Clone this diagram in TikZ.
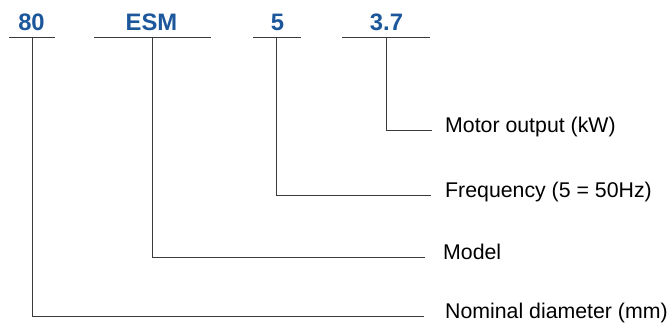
\documentclass[tikz,border=0pt]{standalone}
\usepackage{fontspec}
\setmainfont{Liberation Sans}
\definecolor{codeblue}{HTML}{1C579C}
\definecolor{linegray}{HTML}{3A3A3A}
\begin{document}
\begin{tikzpicture}[x=1pt,y=-1pt,
  code/.style={anchor=base,inner sep=0pt,text=codeblue,font=\fontsize{23.8}{26}\selectfont\bfseries},
  desc/.style={anchor=base west,inner sep=0pt,font=\fontsize{21.3}{24}\selectfont},
  ln/.style={draw=linegray,line width=0.95pt}]
\useasboundingbox (0,0) rectangle (668,322);
% codes
\node[code] (c80) at (31.5,30) {80};
\node[code] (cesm) at (151.5,30) {ESM};
\node[code] (c5) at (277.5,30) {5};
\node[code] (c37) at (386.5,30) {3.7};
% underline coordinates
\coordinate (u80l) at (9,37.5);   \coordinate (u80r) at (55,37.5);  \coordinate (u80m) at (32,37.5);
\coordinate (uesml) at (94,37.5); \coordinate (uesmr) at (211,37.5); \coordinate (uesmm) at (152,37.5);
\coordinate (u5l) at (253,37.5);  \coordinate (u5r) at (301,37.5);  \coordinate (u5m) at (276.5,37.5);
\coordinate (u37l) at (342,37.5); \coordinate (u37r) at (430,37.5); \coordinate (u37m) at (386,37.5);
\draw[ln] (u80l) -- (u80r);
\draw[ln] (uesml) -- (uesmr);
\draw[ln] (u5l) -- (u5r);
\draw[ln] (u37l) -- (u37r);
% descriptions
\node[desc] (dmot) at (445,132.5) {Motor output (kW)};
\node[desc] (dfreq) at (445,197.5) {Frequency (5 = 50Hz)};
\node[desc] (dmod) at (443,259.5) {Model};
\node[desc] (dnom) at (445,318.5) {Nominal diameter (mm)};
% line ends
\coordinate (emot) at (431.5,130);
\coordinate (efreq) at (431,195);
\coordinate (emod) at (425,257);
\coordinate (enom) at (423.5,316);
% connectors
\draw[ln] (u37m) |- (emot);
\draw[ln] (u5m) |- (efreq);
\draw[ln] (uesmm) |- (emod);
\draw[ln] (u80m) |- (enom);
\end{tikzpicture}
\end{document}
